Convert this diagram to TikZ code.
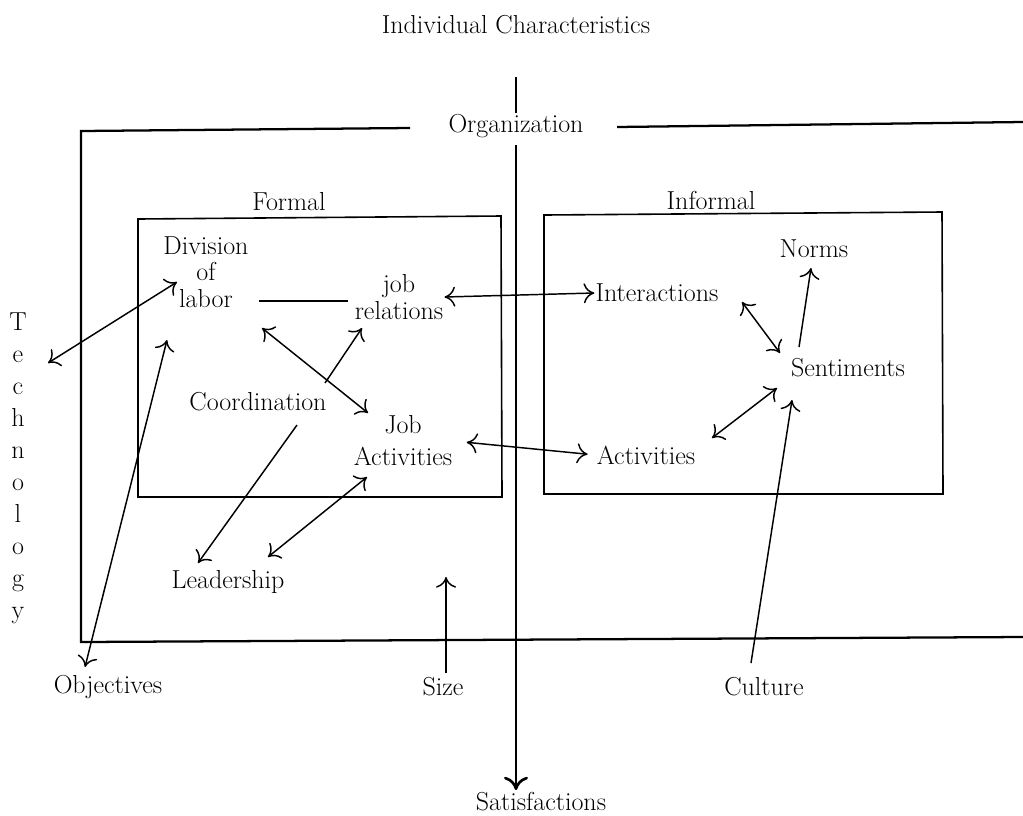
\documentclass[tikz,border=0pt]{standalone}
\usepackage{amsmath}
\usepackage{tikz}
\usetikzlibrary{arrows.meta}

\begin{document}
\begin{tikzpicture}[x=0.75pt,y=0.75pt,yscale=-1,xscale=1,
  every node/.style={font=\fontsize{19.5}{20}\selectfont, align=center, inner sep=0.75pt},
  frameline/.style={line width=1.7pt},
  boxline/.style={line width=1.2pt},
  arr/.style={line width=1.1pt},
  >={To[length=8pt,width=15pt]}]
%set diagram to the size of the page
\useasboundingbox (0,0) rectangle (1023,815);

% Text Node
\node (indiv) at (516,25) {Individual Characteristics};
% Text Node
\node (org) at (516,126) {Organization};
% Text Node
\node (formal) at (289,202) {Formal};
% Text Node
\node (informal) at (711,200) {Informal};
% Text Node
\node (div) at (206,272) {Division\\of\\labor};
% Text Node
\node (jobrel) at (399,297) {job\\relations};
% Text Node
\node (coord) at (258,402) {Coordination};
% Text Node
\node (jobact) at (403,441) [font=\fontsize{19.5}{24}\selectfont] {Job\\Activities};
% Text Node
\node (leader) at (228,582) {Leadership};
% Text Node
\node (inter) at (657,293) {Interactions};
% Text Node
\node (act) at (646,455) {Activities};
% Text Node
\node (norms) at (814,249) {Norms};
% Text Node
\node (sent) at (848,368) {Sentiments};
% Text Node
\node (tech) at (18,468) [font=\fontsize{19.5}{24}\selectfont] {T\\e\\c\\h\\n\\o\\l\\o\\g\\y};
% Text Node
\node (obj) at (108,687) {Objectives};
% Text Node
\node (size) at (443,687) {Size};
% Text Node
\node (culture) at (764,687) {Culture};
% Text Node
\node (satis) at (541,802) {Satisfactions};

%Shape: Organization frame
\draw [frameline] (410,128) -- (81,131) -- (81,642) -- (1023,637) ;
\draw [frameline] (617,127) -- (1023,122) ;
%Shape: Rectangle (formal)
\draw [boxline] (138,219) -- (501,216) -- (502,497) -- (138,497) -- cycle ;
%Shape: Rectangle (informal)
\draw [boxline] (544,215) -- (942,212) -- (943,494) -- (544,494) -- cycle ;

%Straight Lines: individual characteristics down to satisfactions
\draw [line width=0.9pt] (org.north) ++(0,-36) -- (org.north) ;
\draw [line width=2pt, -{To[length=10pt,width=18pt]}, shorten >=1] (org.south) ++(0,6) -- (org.south |- satis.north) ;

% arrow ends
\coordinate (tech-r) at (48,363) ;
\coordinate (div-l) at (177,282) ;
\coordinate (obj-t) at (85,667) ;
\coordinate (div-b) at (167,340) ;
\coordinate (div-e) at (259,301) ;
\coordinate (jr-w) at (348,301) ;
\coordinate (div-se) at (262,328) ;
\coordinate (ja-nw) at (368,413) ;
\coordinate (co-ne) at (325,383) ;
\coordinate (jr-sw) at (362,328) ;
\coordinate (co-s) at (297,425) ;
\coordinate (le-n) at (198,563) ;
\coordinate (le-ne) at (268,557) ;
\coordinate (ja-sw) at (367,477) ;
\coordinate (in-se) at (742,302) ;
\coordinate (se-nw) at (780,353) ;
\coordinate (se-n) at (799,347) ;
\coordinate (no-s) at (811,268) ;
\coordinate (ac-ne) at (712,438) ;
\coordinate (se-w) at (777,388) ;
\coordinate (cu-n) at (751,663) ;
\coordinate (se-s) at (792,400) ;
\coordinate (si-n) at (446,673) ;
\coordinate (si-top) at (446,577) ;

%Straight Lines
\draw [arr, <->] (tech-r) -- (div-l) ;
\draw [arr, <->] (obj-t) -- (div-b) ;
\draw [arr] (div-e) -- (jr-w) ;
\draw [arr, <->] (div-se) -- (ja-nw) ;
\draw [arr, ->] (co-ne) -- (jr-sw) ;
\draw [arr, ->] (co-s) -- (le-n) ;
\draw [arr, <->] (le-ne) -- (ja-sw) ;
\draw [arr, <->] (jobrel.east) -- (inter.west) ;
\draw [arr, <->, shorten <=10, shorten >=6] (jobact.east) -- (act.west) ;
\draw [arr, <->] (in-se) -- (se-nw) ;
\draw [arr, ->] (se-n) -- (no-s) ;
\draw [arr, <->] (ac-ne) -- (se-w) ;
\draw [arr, ->] (cu-n) -- (se-s) ;
\draw [arr, ->] (si-n) -- (si-top) ;
\end{tikzpicture}
\end{document}
